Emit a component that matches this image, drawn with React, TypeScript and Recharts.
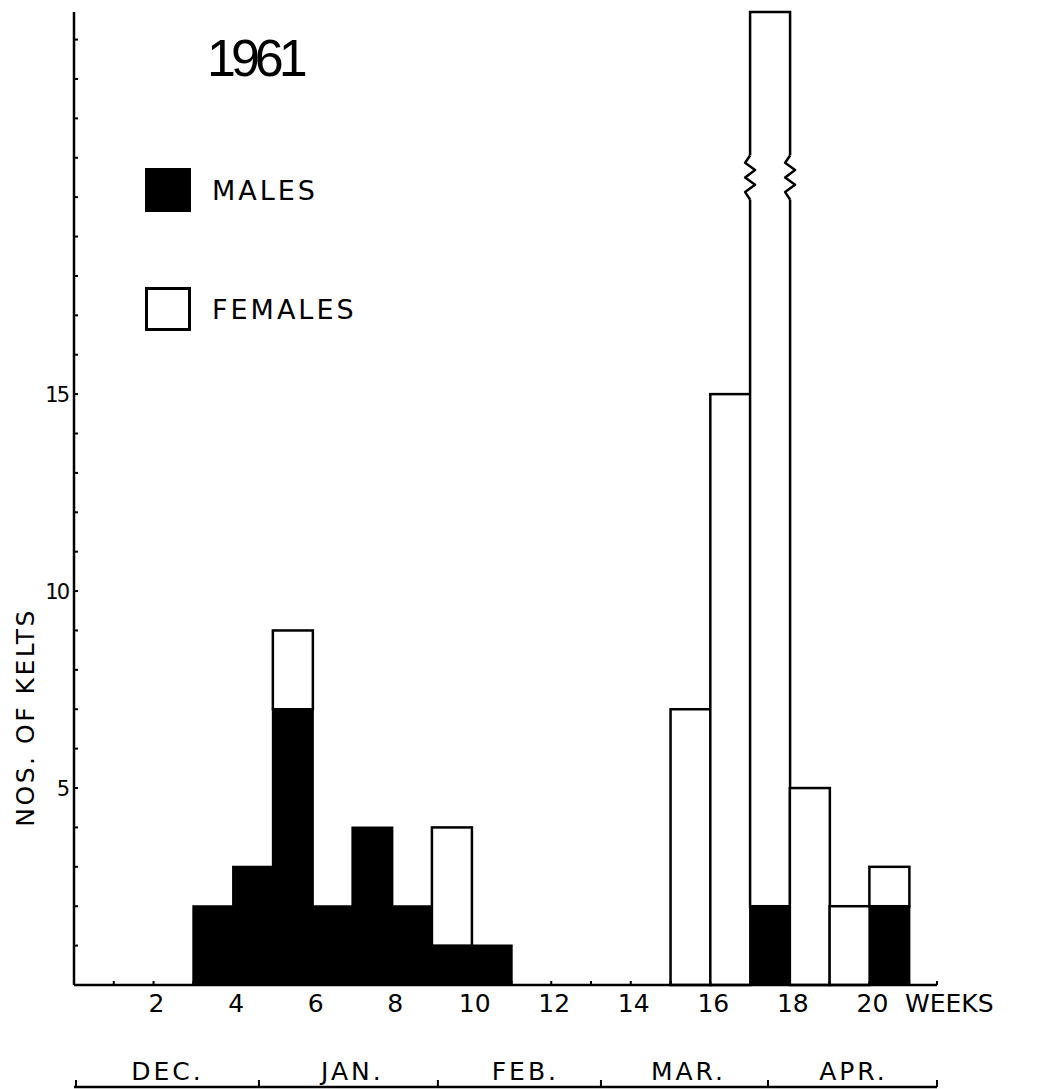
import { BarChart, Bar, XAxis, YAxis, Legend } from "recharts";

// week at which each bar starts (bar covers week .. week+1)
const weeks = [0, 1, 2, 3, 4, 5, 6, 7, 8, 9, 10, 11, 12, 13, 14, 15, 16, 17, 18, 19, 20];
const males = [0, 0, 0, 2, 3, 7, 2, 4, 2, 1, 1, 0, 0, 0, 0, 0, 0, 2, 0, 0, 2];
const females = [0, 0, 0, 0, 0, 2, 0, 0, 0, 3, 0, 0, 0, 0, 0, 7, 15, 22.7, 5, 2, 1];
// the bar for this week runs off the page, drawn with a break
const brokenWeeks = [17];
const breakValue = 20.5;

const weekTicks = [1, 2, 3, 4, 5, 6, 7, 8, 9, 10, 11, 12, 13, 14, 15, 16, 17, 18, 19, 20, 21, 21.7];
const weekLabels = [2, 4, 6, 8, 10, 12, 14, 16, 18, 20];
const countTicks = [1, 2, 3, 4, 5, 6, 7, 8, 9, 10, 11, 12, 13, 14, 15, 16, 17, 18, 19, 20, 21, 22, 23, 24];
const countLabels = [5, 10, 15];

const months = ["DEC.", "JAN.", "FEB.", "MAR.", "APR."];
const monthMid = [2.35, 7.0, 11.35, 15.45, 19.6];
const monthBounds = [0.05, 4.65, 9.15, 13.25, 17.45, 21.7];

const legendOrder = ["males", "females"];

const data = weeks.map((w, i) => ({
  mid: w + 0.5,
  males: males[i],
  females: females[i],
  broken: brokenWeeks.includes(w),
}));

const FONT = "DejaVu Sans";

const WeekTick = ({ x, y, payload }: any) => (
  <g>
    <line x1={x} x2={x} y1={y} y2={y - 4} stroke="#000" strokeWidth={2} />
    {weekLabels.includes(payload.value) && (
      <text x={x + 3} y={y + 27} textAnchor="middle" fontSize={25} fontFamily={FONT} fill="#000">
        {payload.value}
      </text>
    )}
  </g>
);

const CountTick = ({ x, y, payload }: any) => (
  <g>
    <line x1={x} x2={x + 4} y1={y} y2={y} stroke="#000" strokeWidth={2} />
    {countLabels.includes(payload.value) && (
      <text x={x - 6} y={y} dy="0.36em" textAnchor="end" fontSize={21} letterSpacing={-2} fontFamily={FONT} fill="#000">
        {payload.value}
      </text>
    )}
  </g>
);

const MonthTick = ({ x, y, index }: any) => (
  <text x={x} y={y + 35} textAnchor="middle" fontSize={25} letterSpacing={3} fontFamily={FONT} fill="#000">
    {months[index]}
  </text>
);

const BracketTick = ({ x, y }: any) => (
  <line x1={x} x2={x} y1={y} y2={y - 7} stroke="#000" strokeWidth={2} />
);

const zigzag = (x: number, y0: number, y1: number) => {
  const n = 6;
  const step = (y1 - y0) / n;
  let d = `M${x},${y0}`;
  for (let i = 1; i <= n; i++) {
    const dx = i === n ? 0 : i % 2 ? -5 : 5;
    d += ` L${x + dx},${y0 + step * i}`;
  }
  return d;
};

const FemaleBar = (props: any) => {
  const { x, y, width, height, payload } = props;
  if (!height || height <= 0) return null;
  const rect = <rect x={x} y={y} width={width} height={height} fill="#fff" stroke="#000" strokeWidth={2.5} />;
  if (!payload.broken) return rect;
  const top = payload.males + payload.females;
  const by = y + (height * (top - breakValue)) / payload.females;
  return (
    <g>
      {rect}
      <rect x={x - 3} y={by - 22} width={width + 6} height={44} fill="#fff" />
      <path d={zigzag(x, by - 22, by + 22)} fill="none" stroke="#000" strokeWidth={2.5} strokeLinejoin="round" />
      <path d={zigzag(x + width, by - 22, by + 22)} fill="none" stroke="#000" strokeWidth={2.5} strokeLinejoin="round" />
    </g>
  );
};

const LegendBox = ({ payload }: any) => {
  const items = [...(payload || [])].sort(
    (a: any, b: any) => legendOrder.indexOf(a.dataKey) - legendOrder.indexOf(b.dataKey)
  );
  return (
    <div>
      {items.map((entry: any, i: number) => (
        <div
          key={entry.value}
          style={{ display: "flex", alignItems: "center", height: 44, marginBottom: i === 0 ? 75 : 0 }}
        >
          <div
            style={{
              width: 46,
              height: 44,
              boxSizing: "border-box",
              background: entry.payload?.fill ?? entry.color,
              border: "3px solid #000",
            }}
          />
          <span style={{ marginLeft: 21, fontSize: 27, letterSpacing: 3, fontFamily: FONT, lineHeight: 1, color: "#000" }}>
            {entry.value}
          </span>
        </div>
      ))}
    </div>
  );
};

const WeeksLabel = ({ viewBox }: any) => (
  <text x={viewBox.x + viewBox.width - 32} y={viewBox.y + 27} fontSize={25} fontFamily={FONT} fill="#000">
    WEEKS
  </text>
);

const CountLabel = ({ viewBox }: any) => {
  const cx = viewBox.x + 9;
  const cy = viewBox.y + viewBox.height * 0.725;
  return (
    <text
      x={cx}
      y={cy}
      transform={`rotate(-90 ${cx} ${cy})`}
      textAnchor="middle"
      dy="0.36em"
      fontSize={25}
      letterSpacing={2.5}
      fontFamily={FONT}
      fill="#000"
    >
      NOS. OF KELTS
    </text>
  );
};

export default function App() {
  return (
    <div style={{ position: "relative", width: 1021, height: 1081 }}>
      <BarChart
        width={1021}
        height={1081}
        data={data}
        margin={{ top: 4, right: 92, left: 8, bottom: 0 }}
        barCategoryGap={0}
        barGap={0}
      >
        <XAxis
          xAxisId="a-week"
          dataKey="mid"
          type="number"
          domain={[0, 21.7]}
          ticks={weekTicks}
          interval={0}
          height={60}
          tickSize={0}
          tickMargin={0}
          tickLine={false}
          tick={<WeekTick />}
          axisLine={{ stroke: "#000", strokeWidth: 2.5 }}
          label={{ content: <WeeksLabel /> }}
        />
        <XAxis
          xAxisId="b-month"
          dataKey="mid"
          type="number"
          domain={[0, 21.7]}
          ticks={monthMid}
          interval={0}
          height={42}
          tickSize={0}
          tickMargin={0}
          tickLine={false}
          axisLine={false}
          tick={<MonthTick />}
        />
        <XAxis
          xAxisId="c-bracket"
          dataKey="mid"
          type="number"
          domain={[0, 21.7]}
          ticks={monthBounds}
          interval={0}
          height={2}
          tickSize={0}
          tickMargin={0}
          tickLine={false}
          axisLine={{ stroke: "#000", strokeWidth: 2.5 }}
          tick={<BracketTick />}
        />
        <YAxis
          type="number"
          domain={[0, 24.7]}
          ticks={countTicks}
          interval={0}
          width={58}
          tickSize={0}
          tickMargin={0}
          tickLine={false}
          tick={<CountTick />}
          axisLine={{ stroke: "#000", strokeWidth: 2.5 }}
          label={{ content: <CountLabel /> }}
        />
        <Legend
          layout="horizontal"
          verticalAlign="middle"
          align="center"
          content={<LegendBox />}
          wrapperStyle={{ left: 137, top: 160, width: "auto" }}
        />
        <Bar
          xAxisId="a-week"
          dataKey="males"
          name="MALES"
          stackId="kelts"
          fill="#000"
          stroke="#000"
          strokeWidth={2}
          isAnimationActive={false}
        />
        <Bar
          xAxisId="a-week"
          dataKey="females"
          name="FEMALES"
          stackId="kelts"
          fill="#fff"
          shape={FemaleBar}
          isAnimationActive={false}
        />
      </BarChart>
      <div
        style={{
          position: "absolute",
          left: 199,
          top: 24,
          fontFamily: "Liberation Sans",
          fontSize: 52,
          lineHeight: 1,
          letterSpacing: -5,
          color: "#000",
        }}
      >
        1961
      </div>
    </div>
  );
}
